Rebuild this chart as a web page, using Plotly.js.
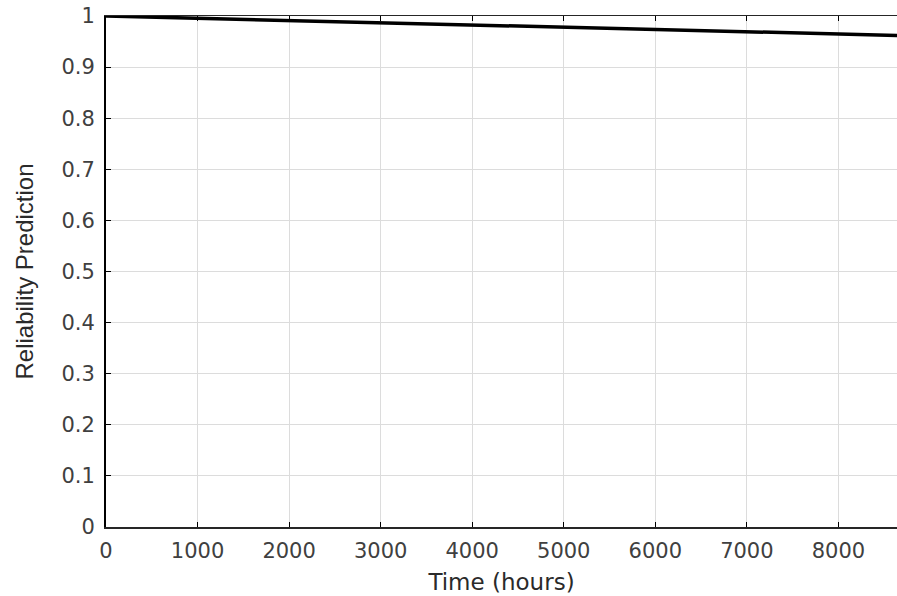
<!DOCTYPE html>
<html>
<head>
<meta charset="utf-8">
<script src="https://cdn.plot.ly/plotly-3.0.1.min.js"></script>
<style>html,body{margin:0;padding:0;background:#fff;}#chart{width:897px;height:596px;}</style>
</head>
<body>
<div id="chart"></div>
<script>
// Time in hours and reliability values
const timeHours = [0, 1000, 2000, 3000, 4000, 5000, 6000, 7000, 8000, 8760];
const reliability = [1.0, 0.9955, 0.991, 0.9866, 0.9822, 0.9778, 0.9735, 0.9691, 0.9648, 0.9615];
const xTickVals = [0, 1000, 2000, 3000, 4000, 5000, 6000, 7000, 8000];
const yTickVals = [0, 0.1, 0.2, 0.3, 0.4, 0.5, 0.6, 0.7, 0.8, 0.9, 1];
const yTickText = ['0', '0.1', '0.2', '0.3', '0.4', '0.5', '0.6', '0.7', '0.8', '0.9', '1'];

const trace = {
  x: timeHours, y: reliability, type: 'scatter', mode: 'lines',
  line: {color: '#000', width: 3.5}, hoverinfo: 'skip'
};
const tickFont = {family: 'DejaVu Sans, sans-serif', size: 21, color: '#404040'};
const layout = {
  width: 897, height: 596,
  margin: {l: 106, r: 0, t: 16, b: 69},
  paper_bgcolor: '#fff', plot_bgcolor: '#fff',
  showlegend: false,
  xaxis: {
    range: [0, 8640], tickvals: xTickVals, ticktext: xTickVals.map(String),
    ticks: 'inside', ticklen: 5, tickcolor: '#000', tickwidth: 1,
    showline: true, linecolor: '#262626', linewidth: 1.5, mirror: 'ticks',
    showgrid: true, gridcolor: '#dcdcdc', gridwidth: 1, zeroline: false,
    tickfont: tickFont, ticklabelstandoff: 4,
    title: {text: 'Time (hours)', font: {family: 'DejaVu Sans, sans-serif', size: 23, color: '#2a2a2a'}, standoff: 12}
  },
  yaxis: {
    range: [0, 1], tickvals: yTickVals, ticktext: yTickText,
    ticks: 'inside', ticklen: 5, tickcolor: '#000', tickwidth: 1,
    showline: true, linecolor: '#000', linewidth: 2, mirror: false,
    showgrid: true, gridcolor: '#dcdcdc', gridwidth: 1, zeroline: false,
    tickfont: tickFont, ticklabelstandoff: 5,
    title: {text: 'Reliability Prediction', font: {family: 'Liberation Sans, Arial, sans-serif', size: 24, color: '#2a2a2a'}, standoff: 21}
  }
};
Plotly.newPlot('chart', [trace], layout, {displayModeBar: false, staticPlot: true});
</script>
</body>
</html>
